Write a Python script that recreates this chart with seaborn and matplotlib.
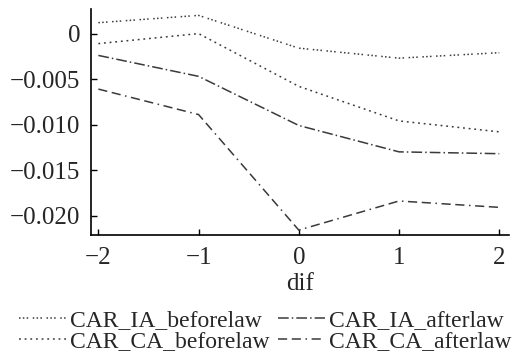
import matplotlib
matplotlib.use("Agg")

import matplotlib.pyplot as plt
import numpy as np
import pandas as pd
import seaborn as sns

dif = [-2, -1, 0, 1, 2]
car_ia_before = [0.0012, 0.0020, -0.0016, -0.0027, -0.0021]
car_ca_before = [-0.0011, 0.0000, -0.0058, -0.0096, -0.0108]
car_ia_after = [-0.0024, -0.0047, -0.0101, -0.0130, -0.0132]
car_ca_after = [-0.0061, -0.0089, -0.0216, -0.0184, -0.0191]

# column-wise order for a 2-column legend: IA_before / CA_before, IA_after / CA_after
names = ["CAR_IA_beforelaw", "CAR_CA_beforelaw", "CAR_IA_afterlaw", "CAR_CA_afterlaw"]
series = [car_ia_before, car_ca_before, car_ia_after, car_ca_after]

df = pd.concat(
    [pd.DataFrame({"dif": dif, "car": vals, "series": name}) for name, vals in zip(names, series)],
    ignore_index=True,
)

sns.set_theme(style="ticks")
plt.rcParams["font.family"] = ["Liberation Serif", "DejaVu Serif"]
plt.rcParams["axes.unicode_minus"] = True

dashes = {
    "CAR_IA_beforelaw": (1, 1.5, 1, 1.5, 1, 3),
    "CAR_CA_beforelaw": (1.2, 2.5),
    "CAR_IA_afterlaw": (7, 2, 1, 2),
    "CAR_CA_afterlaw": (6, 3, 6, 3, 1, 3),
}

fig, ax = plt.subplots(figsize=(5.25, 3.61), dpi=100)
sns.lineplot(data=df, x="dif", y="car", style="series", style_order=names,
             dashes=dashes, color="#3a3a3a", linewidth=1.1, ax=ax, legend=True)

ax.set_xlim(-2.07, 2.1)
ax.set_ylim(-0.0221, 0.0027)
ax.set_xticks(dif)
ax.set_xticklabels(["\u22122", "\u22121", "0", "1", "2"])
ax.set_yticks([0, -0.005, -0.010, -0.015, -0.020])
ax.set_yticklabels(["0", "\u22120.005", "\u22120.010", "\u22120.015", "\u22120.020"])
ax.tick_params(labelsize=18, length=4, width=1, color="black", direction="in")
ax.tick_params(axis="y", pad=8)
ax.tick_params(axis="x", pad=9)
ax.set_xlabel("dif", fontsize=18, labelpad=3)
ax.set_ylabel("")
for side in ["top", "right"]:
    ax.spines[side].set_visible(False)
for side in ["left", "bottom"]:
    ax.spines[side].set_color("black")
    ax.spines[side].set_linewidth(1.2)

handles, labels = ax.get_legend_handles_labels()
ax.get_legend().remove()
fig.legend(handles, labels, loc="lower center", ncol=2, frameon=False,
           fontsize=17, handlelength=2.0, handletextpad=0.15, columnspacing=0.35,
           labelspacing=0.0, bbox_to_anchor=(0.505, -0.035))

fig.subplots_adjust(left=0.174, right=0.97, top=0.975, bottom=0.35)
fig.savefig("out.png", dpi=100)
